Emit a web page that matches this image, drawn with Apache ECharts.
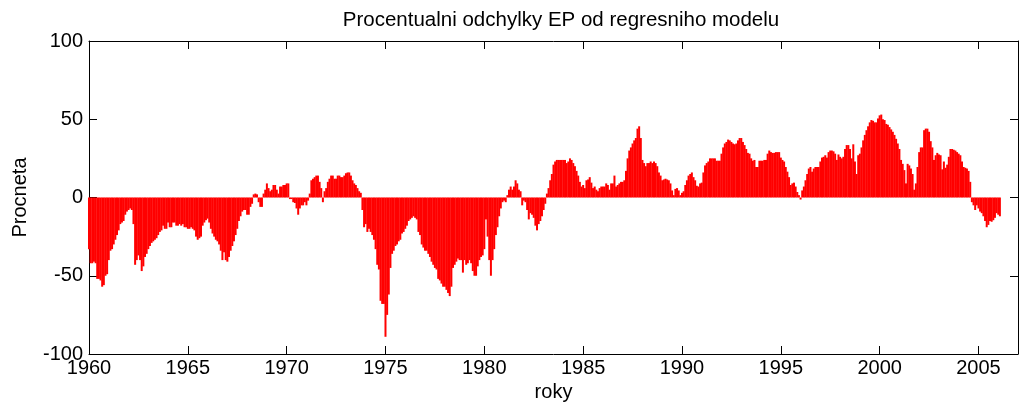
<!DOCTYPE html>
<html>
<head>
<meta charset="utf-8">
<script src="https://cdn.jsdelivr.net/npm/echarts@6/dist/echarts.min.js"></script>
<style>
  html, body { margin: 0; padding: 0; background: #fff; }
  #chart { width: 1021px; height: 411px; }
</style>
</head>
<body>
<div id="chart"></div>
<script>
// Monthly values (percent), starting January 1960
const startYear = 1960;
const v1960 = [-33,-42,-42,-41,-42,-52,-52,-53,-57,-56,
               -50,-49,-40,-34,-33,-30,-27,-24,-21,-17,
               -16,-15,-11,-9,-8,-7,-8,-17,-43,-40,
               -37,-40,-47,-44,-38,-36,-33,-31,-29,-28,
               -27,-26,-24,-22,-21,-18,-20,-20,-16,-19,
               -19,-16,-16,-18,-18,-17,-18,-17,-19,-19];
const v1965 = [-20,-20,-19,-20,-21,-25,-27,-26,-25,-18,
               -16,-14.5,-13.5,-16,-20,-23,-25,-27,-28,-30,
               -34,-40,-35,-40,-41,-38,-34,-31,-28,-24,
               -20,-15,-12,-9,-8,-8,-11,-11,-6,-4,
               2,2.5,2,-3,-6,-6,2.5,5,9,6,
               4,5,8,8,5,2.5,7,7,8,8];
const v1970 = [9,9,-1,-1,-3,-3.5,-7,-11,-7,-5,
               -5,-3,-5,-2,2.5,11,12,13,14,14,
               10,6,-3,4,6,10,12,14,14,12,
               12,14,14,13,13,14,15.5,16,16,14,
               11,9,8,6,4,3,-8,-19,-17,-22,
               -20,-22,-24,-27,-33,-43,-46,-66,-68,-68];
const v1975 = [-89,-75,-62,-45,-36,-34,-31,-30,-28,-27,
               -23,-22,-20,-18,-15,-14,-13,-12,-13,-14,
               -22,-24,-30,-32,-34,-34,-36,-38,-41,-43,
               -45,-46,-52,-53,-55,-57,-57,-59,-61,-63,
               -57,-45,-43,-41,-39,-40,-40,-48,-40,-43,
               -42,-40,-42,-47,-50,-50,-44,-40,-38,-37];
const v1980 = [-33,-14,-25,-40,-50,-40,-33,-24,-19,-12,
               -7,-3,-2,-3,1.5,5,7,5,7,11,
               9,5,4,-5,-2,-3,-8,-14,-10,-11,
               -13,-18,-21,-17,-15,-12,-8,-4,2.5,6,
               11,15,21,23,24,24,24,24,24,24,
               22,23,25,24,22,20,17,14,10,7];
const v1985 = [8,6,11,11.5,13,9.5,6,7,5,4,
               6,7,7,7,9,8,5,9,9,14,
               7,8,9,10,10,11,17,25,30,32,
               34.5,36.5,38,44,45.5,38,24,22,20,22,
               22,23,22,23,22,20,16,14,11,11.5,
               12,11.5,11,9,4.5,1.5,5.5,6,4.5,1.5];
const v1990 = [3,4,8,11,14,15,16,13,11,7.5,
               7,9,9.5,16,20.5,22,23,25,25,25,
               25,23.5,23.5,23.5,28,32,34.5,35.5,37,36.5,
               35.5,34.5,34,34.5,36.5,38,38,35.5,33.5,31,
               28.5,28,25,23.5,24,19.5,19.5,23.5,23.5,23.5,
               24,24,28,30,29,28.5,28.5,29,29,29];
const v1995 = [25.5,24,23,19.5,16.5,13,8,9,9.5,7,
               3.5,1.5,-1.3,4.5,7,11,15,18.5,19.5,16.5,
               18.5,19.5,19.5,19.5,23,25.5,26,27,25.5,29,
               30,30,29.5,28,24,27.5,26,25,26,31,
               33.5,33.5,31,25,34,23,15,27,28,32,
               36.5,40,43,45.5,48,49.5,49,48,48,50.5];
const v2000 = [52.5,53,50,49.5,47,46.5,45,43.5,42,40,
               37.5,34.5,31,24,21.5,17.5,9,21.5,20.5,18.5,
               15,5,9,19.5,29,32,32,43,44,44,
               42,36,32,24,27,28.5,27.5,27,18,23,
               19,21,26,31,31,30.5,30,29,28,27,
               23,19.5,19,18.5,17,10,-3,-5,-8,-5];
const v2005 = [-7,-9,-10,-12,-15,-19,-17.5,-15,-15.5,-14.5,
               -13,-10,-11,-12];

const yTicks = [-100, -50, 0, 50, 100];
const xTickYears = [1960, 1965, 1970, 1975, 1980, 1985, 1990, 1995, 2000, 2005];

const titleText = 'Procentualni odchylky EP od regresniho modelu';
const xName = 'roky';
const yName = 'Procneta';

const values = [].concat(v1960, v1965, v1970, v1975, v1980, v1985, v1990, v1995, v2000, v2005);
const seriesData = values.map((v, i) => [startYear + i / 12, v]);

const FONT = '"Liberation Sans", Arial, Helvetica, sans-serif';
const FS = 20;
const axisLineStyle = { show: true, onZero: false, lineStyle: { color: '#000', width: 1 } };
const tickStyle = { show: true, inside: true, length: 8, lineStyle: { color: '#000', width: 1 } };

const chart = echarts.init(document.getElementById('chart'), null, { renderer: 'canvas' });
chart.setOption({
  animation: false,
  backgroundColor: '#ffffff',
  title: {
    text: titleText,
    left: 556,
    top: 5,
    textAlign: 'center',
    textStyle: { fontFamily: FONT, fontSize: 20.5, fontWeight: 'normal', color: '#000' }
  },
  grid: { left: 89, top: 41, width: 935, height: 313, containLabel: false },
  xAxis: [
    {
      type: 'value', min: 1960, max: 2007, interval: 5, position: 'bottom',
      axisLine: axisLineStyle, axisTick: tickStyle, splitLine: { show: false },
      axisLabel: {
        fontFamily: FONT, fontSize: FS, color: '#000', margin: 4,
        formatter: v => (xTickYears.indexOf(v) >= 0 ? String(v) : '')
      },
      name: xName, nameLocation: 'middle', nameGap: 18,
      nameTextStyle: { fontFamily: FONT, fontSize: FS, color: '#000' }
    },
    {
      type: 'value', min: 1960, max: 2007, interval: 5, position: 'top',
      axisLine: axisLineStyle, axisTick: tickStyle, splitLine: { show: false },
      axisLabel: { show: false }
    }
  ],
  yAxis: [
    {
      type: 'value', min: yTicks[0], max: yTicks[yTicks.length - 1], interval: 50, position: 'left',
      axisLine: axisLineStyle, axisTick: tickStyle, splitLine: { show: false },
      axisLabel: { fontFamily: FONT, fontSize: FS, color: '#000', margin: 6 },
      name: yName, nameLocation: 'middle', nameGap: 59, nameRotate: 90,
      nameTextStyle: { fontFamily: FONT, fontSize: FS, color: '#000' }
    },
    {
      type: 'value', min: yTicks[0], max: yTicks[yTicks.length - 1], interval: 50, position: 'right',
      axisLine: axisLineStyle, axisTick: tickStyle, splitLine: { show: false },
      axisLabel: { show: false }
    }
  ],
  series: [{
    type: 'bar',
    xAxisIndex: 0,
    yAxisIndex: 0,
    data: seriesData,
    barWidth: 2,
    itemStyle: { color: '#ff0000' },
    emphasis: { disabled: true },
    clip: true
  }]
});
</script>
</body>
</html>
